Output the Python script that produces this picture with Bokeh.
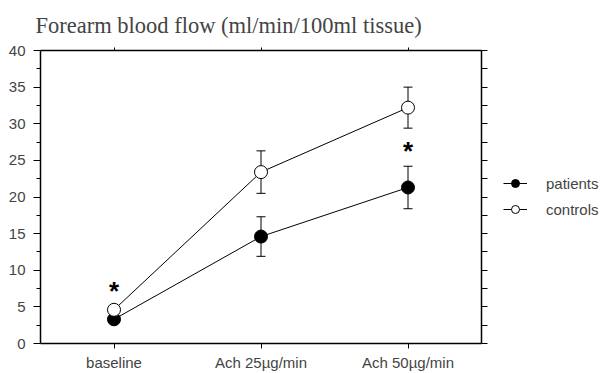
from bokeh.plotting import figure
from bokeh.layouts import row
from bokeh.models import (LinearAxis, FixedTicker, Range1d, Whisker, ColumnDataSource,
                          Legend, LegendItem, Title, CustomJSTickFormatter)
from bokeh.core.properties import value
from bokeh.embed import file_html
from bokeh.resources import INLINE

categories = ["baseline", "Ach 25\u00b5g/min", "Ach 50\u00b5g/min"]
x_pos = [1, 2, 3]
patients = [3.3, 14.6, 21.3]
patients_err = [0.4, 2.7, 2.9]
controls = [4.6, 23.4, 32.2]
controls_err = [0.4, 2.9, 2.8]
star_x = [1, 3]
star_y = [7.2, 26.3]
series_names = ["patients", "controls"]

p = figure(width=490, height=373, output_backend="svg", toolbar_location=None,
           x_range=Range1d(0.5, 3.5), y_range=Range1d(0, 40),
           min_border_left=40, min_border_right=9, min_border_top=50,
           min_border_bottom=30, x_axis_type=None, y_axis_type=None)
p.grid.visible = False
p.outline_line_color = None
p.background_fill_color = "white"

lw = 1.5
left = LinearAxis(ticker=FixedTicker(ticks=[0, 5, 10, 15, 20, 25, 30, 35, 40],
                                     minor_ticks=[2.5, 7.5, 12.5, 17.5, 22.5, 27.5, 32.5, 37.5]),
                  major_tick_out=7, major_tick_in=0, minor_tick_out=4, minor_tick_in=0,
                  major_label_text_font="Liberation Sans", major_label_text_font_size="15px",
                  major_label_standoff=8, axis_line_width=lw, major_tick_line_width=1,
                  minor_tick_line_width=1)
p.add_layout(left, "left")
right = LinearAxis(ticker=FixedTicker(ticks=[0, 5, 10, 15, 20, 25, 30, 35, 40],
                                      minor_ticks=[2.5, 7.5, 12.5, 17.5, 22.5, 27.5, 32.5, 37.5]),
                   major_tick_out=6, major_tick_in=0, minor_tick_out=6, minor_tick_in=0,
                   formatter=CustomJSTickFormatter(code="return ''"),
                   major_label_standoff=0, major_label_text_font_size="1px",
                   axis_line_width=lw, major_tick_line_width=1, minor_tick_line_width=1)
p.add_layout(right, "right")
bottom = LinearAxis(ticker=FixedTicker(ticks=x_pos, minor_ticks=[]),
                    major_tick_out=5, major_tick_in=0,
                    major_label_overrides={x: c for x, c in zip(x_pos, categories)},
                    major_label_text_font="Liberation Sans", major_label_text_font_size="15px",
                    major_label_standoff=5, axis_line_width=lw, major_tick_line_width=1)
p.add_layout(bottom, "below")
top = LinearAxis(ticker=FixedTicker(ticks=x_pos, minor_ticks=[]),
                 major_tick_out=3, major_tick_in=0,
                 formatter=CustomJSTickFormatter(code="return ''"),
                 major_label_standoff=0, major_label_text_font_size="1px",
                 axis_line_width=lw, major_tick_line_width=1)
p.add_layout(top, "above")

p.title = Title(text="Forearm blood flow (ml/min/100ml tissue)", text_font="Liberation Serif",
                text_font_size="22.5px", text_font_style="normal", align="left", offset=-5,
                standoff=20)

src_p = ColumnDataSource(dict(x=x_pos, y=patients,
                              lo=[v - e for v, e in zip(patients, patients_err)],
                              hi=[v + e for v, e in zip(patients, patients_err)]))
src_c = ColumnDataSource(dict(x=x_pos, y=controls,
                              lo=[v - e for v, e in zip(controls, controls_err)],
                              hi=[v + e for v, e in zip(controls, controls_err)]))

for src in (src_p, src_c):
    w = Whisker(source=src, base="x", upper="hi", lower="lo", line_color="black", line_width=1)
    w.upper_head.size = 9
    w.lower_head.size = 9
    w.upper_head.line_width = 1
    w.lower_head.line_width = 1
    p.add_layout(w)

fills = ["black", "white"]
sources = [src_p, src_c]
for src, fc in zip(sources, fills):
    p.line("x", "y", source=src, line_color="black", line_width=1)
    p.scatter("x", "y", source=src, size=13, fill_color=fc, line_color="black", line_width=1)

p.text(x=star_x, y=star_y, text=["*", "*"], text_font=value("Liberation Sans"),
       text_font_size="26px", text_font_style="bold", text_align="center",
       text_baseline="middle", text_color="black")

# legend panel (its renderers use the same sources, outside its visible ranges)
p2 = figure(width=115, height=373, output_backend="svg", toolbar_location=None,
            x_range=Range1d(100, 101), y_range=Range1d(100, 101),
            x_axis_type=None, y_axis_type=None,
            min_border_left=0, min_border_right=0, min_border_top=0, min_border_bottom=0)
p2.grid.visible = False
p2.outline_line_color = None
items = []
for name, src, fc in zip(series_names, sources, fills):
    lr = p2.line("x", "y", source=src, line_color="black", line_width=1)
    sr = p2.scatter("x", "y", source=src, size=12, fill_color=fc, line_color="black", line_width=1)
    items.append(LegendItem(label=name, renderers=[lr, sr]))
legend = Legend(items=items, location=(13, 124), glyph_width=24, glyph_height=20,
                label_standoff=19, label_text_font="Liberation Sans",
                label_text_font_size="15px", label_height=20, spacing=6, padding=0, margin=0,
                border_line_color=None, background_fill_alpha=0)
p2.add_layout(legend, "center")

layout = row(p, p2, spacing=0)
open("out.html", "w").write(file_html(layout, INLINE))
